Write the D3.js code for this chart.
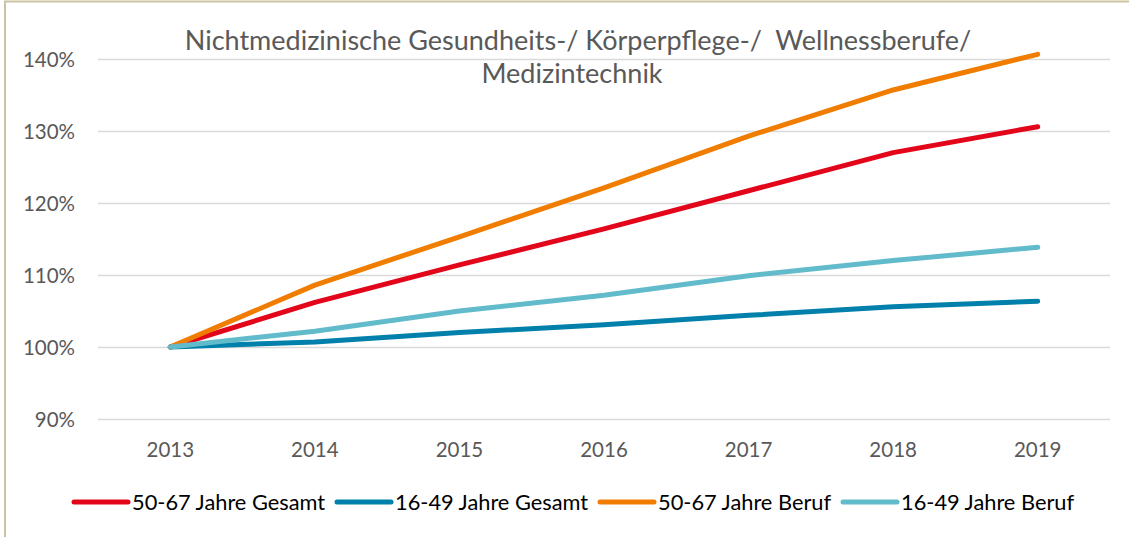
<!DOCTYPE html>
<html><head><meta charset="utf-8">
<script src="https://cdn.jsdelivr.net/npm/d3@7"></script>
<style>
html,body{margin:0;padding:0;background:#fff;}
svg{display:block;}
</style></head>
<body>
<svg id="chart" width="1131" height="537"></svg>
<script>
const years = ["2013","2014","2015","2016","2017","2018","2019"];
const gesamt5067 = [100, 106.2, 111.4, 116.4, 121.7, 127.0, 130.6];
const gesamt1649 = [100, 100.7, 102.0, 103.1, 104.4, 105.6, 106.35];
const beruf5067  = [100, 108.6, 115.3, 122.1, 129.3, 135.7, 140.65];
const beruf1649  = [100, 102.2, 105.0, 107.2, 109.9, 112.0, 113.85];
const seriesNames = ["50-67 Jahre Gesamt","16-49 Jahre Gesamt","50-67 Jahre Beruf","16-49 Jahre Beruf"];
const seriesColors = ["#E3061B","#0080AA","#F07D00","#62BBCA"];
const yTicks = [90,100,110,120,130,140];
const titleLines = ["Nichtmedizinische Gesundheits-/ Körperpflege-/  Wellnessberufe/","Medizintechnik"];

const seriesData = [gesamt5067, gesamt1649, beruf5067, beruf1649];

const svg = d3.select("#chart");
const font = "Lato, 'Open Sans', sans-serif";

// frame
svg.append("line").attr("x1",5).attr("x2",5).attr("y1",1).attr("y2",537)
  .attr("stroke","#CBC3A1").attr("stroke-width",2);
svg.append("line").attr("x1",4).attr("x2",1129).attr("y1",1.5).attr("y2",1.5)
  .attr("stroke","#CBC3A1").attr("stroke-width",2);

const x = d3.scaleBand().domain(years).range([98,1110]);
const y = d3.scaleLinear().domain([90,140]).range([419,59]);

// gridlines
const yAxis = d3.axisLeft(y).tickValues(yTicks).tickSize(-(1110-98)).tickFormat(d=>d+"%").tickPadding(23);
const gy = svg.append("g").attr("transform","translate(98,0)").call(yAxis);
gy.select(".domain").remove();
gy.selectAll(".tick line").attr("stroke","#D9D9D9").attr("stroke-width",1.5);
gy.selectAll(".tick text").attr("fill","#595959").style("font-family",font).style("font-size","20.5px").attr("dy","0.38em");

// x axis labels
const xAxis = d3.axisBottom(x).tickSize(0).tickPadding(0);
const gx = svg.append("g").attr("transform","translate(0,440)").call(xAxis);
gx.select(".domain").remove();
gx.selectAll(".tick text").attr("fill","#595959").style("font-family",font).style("font-size","20.5px").attr("dy","0.85em");

// lines
const line = d3.line().x((d,i)=>x(years[i])+x.bandwidth()/2).y(d=>y(d));
svg.append("g").selectAll("path").data(seriesData).join("path")
  .attr("d",line).attr("fill","none")
  .attr("stroke",(d,i)=>seriesColors[i]).attr("stroke-width",5)
  .attr("stroke-linecap","round").attr("stroke-linejoin","round");

// title
const title = svg.append("text").attr("fill","#595959").style("font-family",font).style("font-size","27px").attr("text-anchor","middle");
title.append("tspan").attr("x",578).attr("y",50).text(titleLines[0]).attr("xml:space","preserve").style("white-space","pre");
title.append("tspan").attr("x",572).attr("y",83).text(titleLines[1]);

// legend
const legendX = [74, 337, 600, 843];
const lg = svg.append("g").selectAll("g").data(seriesNames).join("g")
  .attr("transform",(d,i)=>`translate(${legendX[i]},502)`);
lg.append("line").attr("x1",0).attr("x2",54).attr("y1",0).attr("y2",0)
  .attr("stroke",(d,i)=>seriesColors[i]).attr("stroke-width",5).attr("stroke-linecap","round");
lg.append("text").attr("x",58).attr("y",8).text(d=>d).attr("fill","#000")
  .style("font-family",font).style("font-size","21.8px");
</script>
</body></html>
